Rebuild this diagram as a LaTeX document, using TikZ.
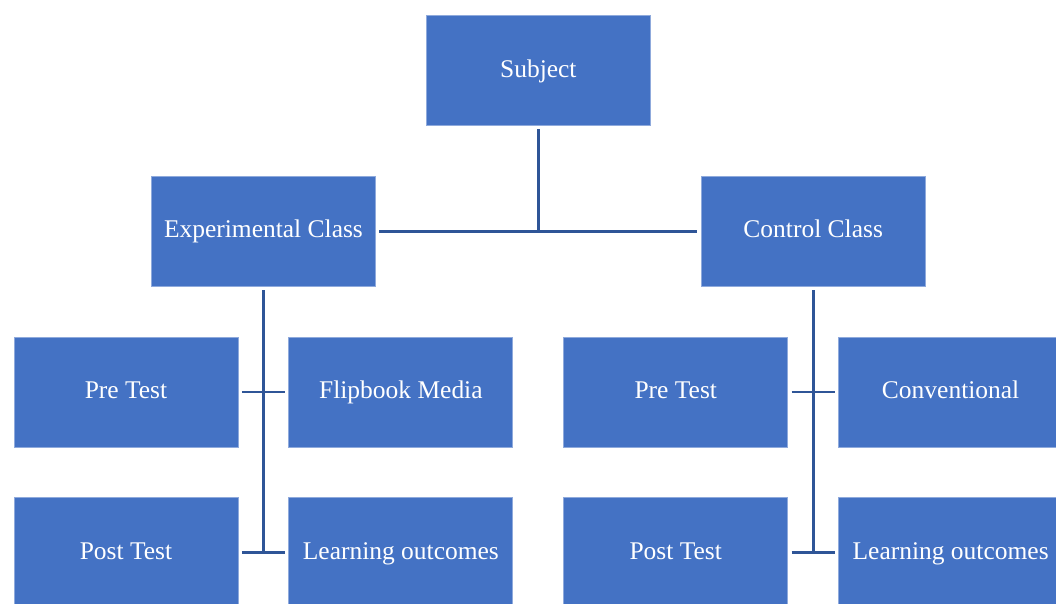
\documentclass[tikz,border=0pt]{standalone}
\usepackage{fontspec}
\setmainfont{Liberation Serif}
\usetikzlibrary{positioning,calc}
\definecolor{boxblue}{HTML}{4472C4}
\definecolor{rimblue}{HTML}{8FAADC}
\definecolor{linkblue}{HTML}{2F5597}
\begin{document}
\begin{tikzpicture}[
    shorten > = 2pt, % keep lines off the boxes
    shorten < = 2pt,
    node distance = 1.0cm, % distance between boxes
    line width = 1.7pt, % line style
    draw = linkblue
    ]

    \tikzset{box/.style={
    draw = rimblue,
    line width = 0.5pt,
    fill = boxblue,
    text = white,
    inner sep = 0pt,
    text height = 1.9ex,
    text depth = 0.2ex,
    minimum width = 4.48cm,
    minimum height = 2.2cm,
    font = \fontsize{14.5}{17}\selectfont
    }}
    \useasboundingbox (0,0) rectangle (21.12,12.06);

    \node[box] (pre1) at (2.52,4.22) {Pre Test};
    \node[box] (flip) [right=of pre1] {Flipbook Media};
    \node[box] (pre2) [right=of flip] {Pre Test};
    \node[box] (conv) [right=of pre2] {Conventional};
    \node[box] (post1) [below=of pre1] {Post Test};
    \node[box] (learn1) [below=of flip] {Learning outcomes};
    \node[box] (post2) [below=of pre2] {Post Test};
    \node[box] (learn2) [below=of conv] {Learning outcomes};
    \node[box] (expc) [above=of {$(pre1.north)!0.5!(flip.north)$}] {Experimental Class};
    \node[box] (ctrl) [above=of {$(pre2.north)!0.5!(conv.north)$}] {Control Class};
    \node[box] (subj) [above=of {$(expc.north)!0.5!(ctrl.north)$}] {Subject};

    \draw[shorten > = 0pt] (subj) -- (subj |- expc);
    \path (expc) edge (ctrl);
    \draw[shorten > = 0pt] (expc) -- (expc |- post1);
    \draw[shorten > = 0pt] (ctrl) -- (ctrl |- post2);
    \path (pre1) edge (flip);
    \path (post1) edge (learn1);
    \path (pre2) edge (conv);
    \path (post2) edge (learn2);
\end{tikzpicture}
\end{document}
